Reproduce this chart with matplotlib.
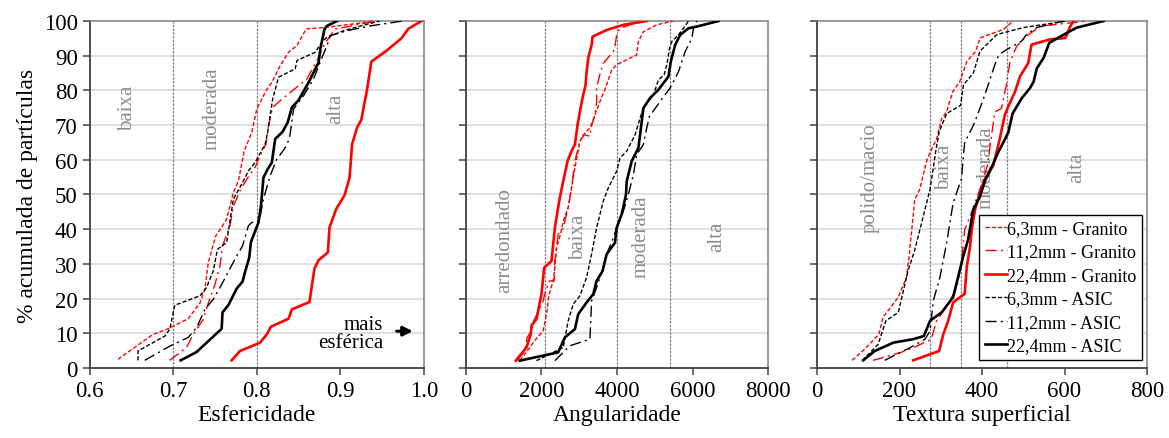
import matplotlib
matplotlib.use("Agg")
import matplotlib.pyplot as plt

plt.rcParams["font.family"] = ["Liberation Serif", "DejaVu Serif"]

# ── Data: cumulative % of particles vs. property value ─────────────────────────

# Esfericidade
esf_63_gr_x = [0.634, 0.656, 0.676, 0.693, 0.718, 0.732, 0.738, 0.742, 0.751, 0.763, 0.766, 0.772,
               0.778, 0.785, 0.794, 0.800, 0.811, 0.818, 0.828, 0.838, 0.848, 0.859, 0.884, 0.927, 0.940]
esf_63_gr_y = [2.5, 6.3, 9.7, 11.2, 14.2, 18.7, 22.7, 30.4, 38.1, 42.4, 44.8, 50.6,
               53.9, 62.6, 67.9, 74.6, 79.9, 82.3, 87.1, 91.0, 92.9, 97.7, 98.2, 99.5, 100]
esf_112_gr_x = [0.696, 0.716, 0.724, 0.736, 0.742, 0.750, 0.756, 0.759, 0.768, 0.772, 0.780, 0.788,
                0.798, 0.804, 0.811, 0.814, 0.819, 0.828, 0.840, 0.860, 0.872, 0.880, 0.888, 0.894,
                0.935, 0.947]
esf_112_gr_y = [2.2, 5.9, 9.7, 14.0, 18.7, 24.1, 29.4, 35.2, 41.0, 46.7, 51.1, 54.4,
                57.8, 61.2, 64.5, 69.8, 75.1, 77.0, 79.4, 83.3, 88.6, 92.9, 95.8, 97.7,
                99.6, 100]
esf_224_gr_x = [0.770, 0.780, 0.804, 0.812, 0.817, 0.838, 0.842, 0.863, 0.869, 0.874, 0.885, 0.887,
                0.895, 0.905, 0.911, 0.914, 0.920, 0.925, 0.932, 0.937, 0.955, 0.973, 0.981, 0.997]
esf_224_gr_y = [2.2, 4.9, 7.3, 9.7, 11.9, 14.2, 16.9, 19.0, 28.7, 31.1, 33.3, 40.5,
                45.8, 49.8, 54.9, 64.5, 69.3, 71.5, 80.4, 88.3, 91.4, 95.0, 97.7, 100]
esf_63_as_x = [0.658, 0.658, 0.690, 0.696, 0.702, 0.732, 0.740, 0.748, 0.753, 0.764, 0.772, 0.782,
               0.790, 0.798, 0.810, 0.813, 0.819, 0.826, 0.846, 0.848, 0.870, 0.879, 0.884, 0.904,
               0.925, 0.947]
esf_63_as_y = [2.2, 4.9, 9.2, 11.2, 18.1, 20.8, 23.2, 28.0, 34.2, 36.2, 48.7, 53.0,
               56.8, 59.2, 64.5, 67.9, 77.5, 83.8, 86.2, 88.6, 91.0, 94.3, 95.3, 97.2,
               98.6, 100]
esf_112_as_x = [0.666, 0.696, 0.718, 0.728, 0.738, 0.748, 0.758, 0.776, 0.783, 0.790, 0.794, 0.803,
                0.808, 0.816, 0.824, 0.833, 0.839, 0.844, 0.856, 0.868, 0.878, 0.884, 0.888, 0.908,
                0.936, 0.975]
esf_112_as_y = [2.2, 6.3, 8.8, 11.6, 16.9, 19.8, 24.1, 32.3, 35.2, 41.0, 41.9, 42.4,
                48.7, 55.4, 60.2, 63.1, 66.0, 74.6, 78.5, 83.3, 89.5, 92.9, 95.8, 97.2,
                98.6, 100]
esf_224_as_x = [0.709, 0.728, 0.758, 0.759, 0.766, 0.776, 0.783, 0.786, 0.791, 0.793, 0.802, 0.805,
                0.808, 0.813, 0.818, 0.822, 0.831, 0.837, 0.842, 0.850, 0.862, 0.874, 0.876, 0.881,
                0.884, 0.896]
esf_224_as_y = [2.2, 4.6, 11.3, 16.0, 18.1, 22.9, 24.9, 27.7, 31.8, 36.3, 41.9, 46.7,
                54.9, 57.3, 59.2, 66.0, 68.1, 70.8, 75.1, 77.2, 82.3, 88.1, 91.9, 97.7,
                98.6, 100]

# Angularidade
ang_63_gr_x = [1425, 1690, 1823, 2044, 2133, 2204, 2310, 2354, 2398, 2504, 2575, 2708, 2796, 2885,
               3018, 3106, 3283, 3416, 3549, 3726, 3858, 3991, 4345, 4522, 4566, 4699, 5053, 5496]
ang_63_gr_y = [2.1, 5.9, 7.9, 10.7, 15.5, 21.3, 25.1, 28.9, 34.7, 38.5, 42.3, 46.2, 51.9, 57.7,
               65.3, 67.2, 69.2, 72.9, 76.8, 81.6, 85.9, 87.4, 89.3, 90.2, 94.1, 96.9, 98.9, 100]
ang_112_gr_x = [1354, 1558, 1619, 1735, 1796, 2044, 2106, 2221, 2336, 2354, 2442, 2575, 2708, 2796,
                2885, 3018, 3133, 3283, 3310, 3416, 3460, 3460, 3531, 3637, 3903, 3947, 3991, 4080,
                4345, 4788]
ang_112_gr_y = [2.1, 5.0, 8.8, 10.7, 13.6, 19.3, 22.2, 25.1, 25.1, 30.8, 38.5, 40.4, 46.2, 51.9,
                59.6, 65.3, 67.2, 66.8, 69.2, 72.9, 76.8, 80.7, 84.0, 87.8, 91.2, 92.6, 96.0, 97.9,
                98.9, 100]
ang_224_gr_x = [1319, 1602, 1717, 1735, 1867, 1929, 2000, 2071, 2265, 2354, 2469, 2575, 2690, 2796,
                2885, 2956, 3035, 3106, 3168, 3195, 3239, 3327, 3354, 3726, 4168, 4788]
ang_224_gr_y = [2.1, 5.9, 9.8, 12.2, 14.1, 17.4, 21.3, 28.9, 30.8, 40.4, 48.1, 53.8, 59.6, 62.5,
                64.4, 70.1, 74.9, 78.7, 81.6, 85.4, 89.3, 93.1, 95.5, 97.4, 98.9, 100]
ang_63_as_x = [1867, 2575, 2708, 2841, 3018, 3195, 3327, 3460, 3637, 3770, 3903, 3991, 4080, 4257,
               4478, 4611, 4699, 4965, 5097, 5248, 5319, 5389, 5451, 5628, 5761, 5894]
ang_63_as_y = [2.1, 5.9, 13.6, 18.4, 20.8, 26.1, 32.8, 40.4, 48.1, 51.9, 54.8, 56.7, 60.5, 62.5,
               67.2, 72.0, 74.9, 78.7, 83.0, 84.5, 87.4, 92.1, 94.1, 96.0, 97.9, 100]
ang_112_as_x = [2354, 2752, 3283, 3327, 3460, 3637, 3726, 3903, 3991, 4168, 4301, 4434, 4522, 4699,
                4788, 4858, 5142, 5407, 5496, 5628, 5805, 5982, 6027, 6115]
ang_112_as_y = [2.1, 6.4, 8.3, 19.3, 23.2, 28.9, 32.8, 37.5, 40.4, 45.2, 50.0, 55.7, 61.5, 64.4,
                69.2, 72.5, 76.8, 80.7, 82.6, 85.4, 91.2, 95.0, 97.9, 100]
ang_224_as_x = [1425, 2442, 2619, 2885, 2973, 3195, 3372, 3460, 3619, 3726, 3947, 3991, 4124, 4239,
                4257, 4389, 4566, 4611, 4699, 4876, 5097, 5363, 5425, 5540, 5673, 5894, 6115, 6690]
ang_224_as_y = [2.1, 4.5, 8.8, 11.2, 15.5, 18.9, 21.3, 25.1, 28.0, 32.8, 36.1, 40.4, 44.3, 50.0,
                53.8, 59.6, 63.4, 67.2, 74.9, 77.8, 80.2, 84.0, 88.3, 93.1, 96.0, 97.9, 98.4, 100]

# Textura superficial
tex_63_gr_x = [85, 111, 150, 160, 197, 217, 223, 237, 249, 267, 282, 290, 302, 314,
               329, 346, 363, 385, 395, 452, 476]
tex_63_gr_y = [2.2, 4.9, 9.7, 14.6, 20.4, 26.2, 32.0, 48.5, 51.5, 60.2, 64.1, 66.0, 71.8, 73.8,
               79.6, 82.5, 88.3, 91.3, 95.1, 97.6, 100]
tex_112_gr_x = [136, 201, 233, 277, 290, 318, 339, 350, 358, 377, 399, 413, 431, 447,
                459, 468, 484, 508, 541, 654]
tex_112_gr_y = [2.2, 4.4, 5.8, 8.3, 13.6, 18.4, 23.3, 30.1, 39.8, 45.6, 52.9, 58.3, 73.8, 74.8,
                81.6, 88.3, 92.7, 95.6, 98.5, 100]
tex_224_gr_x = [233, 296, 306, 318, 330, 358, 363, 371, 375, 383, 395, 407, 427, 443,
                455, 463, 480, 492, 512, 520, 565, 602, 614, 622]
tex_224_gr_y = [2.2, 4.9, 9.7, 13.6, 18.9, 21.4, 29.1, 35.0, 39.8, 45.6, 50.5, 54.4, 58.3, 66.0,
                72.8, 75.2, 79.6, 84.0, 87.9, 93.2, 94.7, 95.1, 98.5, 100]
tex_63_as_x = [110, 148, 167, 197, 221, 237, 274, 288, 296, 314, 348, 355, 379, 395,
               436, 500, 606]
tex_63_as_y = [2.2, 6.8, 13.6, 16.0, 28.2, 34.0, 51.5, 62.6, 68.0, 73.3, 75.7, 81.6, 85.0, 91.3,
               96.1, 98.1, 100]
tex_112_as_x = [164, 209, 225, 262, 274, 282, 298, 314, 330, 350, 358, 379, 401, 415,
                431, 441, 459, 496, 508, 533, 598]
tex_112_as_y = [2.2, 4.9, 5.8, 8.3, 10.7, 19.4, 26.2, 35.9, 47.6, 54.4, 65.0, 69.9, 76.7, 81.6,
                87.4, 90.3, 91.7, 94.2, 96.1, 98.1, 100]
tex_224_as_x = [112, 140, 185, 233, 259, 274, 302, 330, 342, 354, 366, 379, 395, 407,
                425, 439, 456, 464, 474, 496, 516, 525, 533, 549, 563, 606, 630, 695]
tex_224_as_y = [2.2, 4.9, 7.3, 8.3, 9.2, 13.6, 16.0, 20.4, 26.2, 32.0, 36.9, 45.6, 49.5, 53.9,
                58.3, 62.1, 66.0, 68.0, 73.3, 77.7, 80.6, 82.5, 86.4, 89.3, 93.7, 96.6, 98.1, 100]

series_labels = ["6,3mm - Granito", "11,2mm - Granito", "22,4mm - Granito",
                 "6,3mm - ASIC", "11,2mm - ASIC", "22,4mm - ASIC"]

# ── Styles ─────────────────────────────────────────────────────────────────────

RED = "#ff0000"
STYLES = [
    dict(color=RED, lw=1.0, dashes=(3, 1.5)),
    dict(color=RED, lw=1.0, dashes=(8, 3, 1.5, 3)),
    dict(color=RED, lw=1.9, linestyle="-"),
    dict(color="black", lw=1.0, dashes=(3, 1.5)),
    dict(color="black", lw=1.0, dashes=(8, 3, 1.5, 3)),
    dict(color="black", lw=1.9, linestyle="-"),
]
GRID = "#d9d9d9"
ZONE = "#7f7f7f"
ZONE_TXT = "#8c8c8c"
TICK_FS = 16.5
LABEL_FS = 17


def setup_axis(ax, xlim, xticks, xticklabels, boundaries, xlabel):
    ax.set_xlim(*xlim)
    ax.set_ylim(0, 100)
    ax.set_xticks(xticks)
    ax.set_xticklabels(xticklabels, fontsize=TICK_FS)
    ax.set_yticks(range(0, 101, 10))
    for y in range(10, 100, 10):
        ax.axhline(y, color=GRID, lw=1.2, zorder=0)
    for b in boundaries:
        ax.axvline(b, color=ZONE, lw=0.9, dashes=(2, 1), zorder=1)
    for side in ["left", "bottom"]:
        ax.spines[side].set_color("#404040")
        ax.spines[side].set_linewidth(1.3)
    for side in ["top", "right"]:
        ax.spines[side].set_color("#7f7f7f")
        ax.spines[side].set_linewidth(1.1)
    ax.tick_params(direction="out", length=5, width=1.1, color="#404040", labelsize=TICK_FS)
    ax.set_xlabel(xlabel, fontsize=LABEL_FS, labelpad=2)


def zone_text(ax, x, y, s):
    ax.text(x, y, s, rotation=90, color=ZONE_TXT, fontsize=15, ha="center", va="center", zorder=2)


fig = plt.figure(figsize=(11.69, 4.39), dpi=100)
ax1 = fig.add_axes([0.0766, 0.1595, 0.2861, 0.7904])
ax2 = fig.add_axes([0.3986, 0.1595, 0.2584, 0.7904])
ax3 = fig.add_axes([0.6989, 0.1595, 0.2823, 0.7904])

# ── Panel 1: Esfericidade ──────────────────────────────────────────────────────
esf = [(esf_63_gr_x, esf_63_gr_y), (esf_112_gr_x, esf_112_gr_y), (esf_224_gr_x, esf_224_gr_y),
       (esf_63_as_x, esf_63_as_y), (esf_112_as_x, esf_112_as_y), (esf_224_as_x, esf_224_as_y)]
for (x, y), st in zip(esf, STYLES):
    ax1.plot(x, y, zorder=3, **st)
setup_axis(ax1, (0.6, 1.0), [0.6, 0.7, 0.8, 0.9, 1.0], ["0.6", "0.7", "0.8", "0.9", "1.0"],
           [0.7, 0.8], "Esfericidade")
ax1.set_yticklabels([str(v) for v in range(0, 101, 10)])
ax1.set_ylabel("% acumulada de partículas", fontsize=LABEL_FS, labelpad=4)
zone_text(ax1, 0.646, 75, "baixa")
zone_text(ax1, 0.746, 75, "moderada")
zone_text(ax1, 0.894, 75, "alta")
ax1.text(0.951, 10, "mais\nesférica", ha="right", va="center", multialignment="right",
         fontsize=15, linespacing=0.95, zorder=4)
ax1.annotate("", xy=(0.990, 10.6), xytext=(0.964, 10.6),
             arrowprops=dict(arrowstyle="-|>", color="black", lw=2.2, mutation_scale=14), zorder=4)

# ── Panel 2: Angularidade ──────────────────────────────────────────────────────
ang = [(ang_63_gr_x, ang_63_gr_y), (ang_112_gr_x, ang_112_gr_y), (ang_224_gr_x, ang_224_gr_y),
       (ang_63_as_x, ang_63_as_y), (ang_112_as_x, ang_112_as_y), (ang_224_as_x, ang_224_as_y)]
for (x, y), st in zip(ang, STYLES):
    ax2.plot(x, y, zorder=3, **st)
setup_axis(ax2, (0, 8000), [0, 2000, 4000, 6000, 8000], ["0", "2000", "4000", "6000", "8000"],
           [2100, 4000, 5400], "Angularidade")
ax2.set_yticklabels([])
zone_text(ax2, 1030, 37, "arredondado")
zone_text(ax2, 2970, 38, "baixa")
zone_text(ax2, 4650, 38, "moderada")
zone_text(ax2, 6650, 38, "alta")

# ── Panel 3: Textura superficial ───────────────────────────────────────────────
tex = [(tex_63_gr_x, tex_63_gr_y), (tex_112_gr_x, tex_112_gr_y), (tex_224_gr_x, tex_224_gr_y),
       (tex_63_as_x, tex_63_as_y), (tex_112_as_x, tex_112_as_y), (tex_224_as_x, tex_224_as_y)]
for (x, y), st, lab in zip(tex, STYLES, series_labels):
    ax3.plot(x, y, zorder=3, label=lab, **st)
setup_axis(ax3, (0, 800), [0, 200, 400, 600, 800], ["0", "200", "400", "600", "800"],
           [275, 350, 460], "Textura superficial")
ax3.set_yticklabels([])
zone_text(ax3, 128, 55, "polido/macio")
zone_text(ax3, 310, 58, "baixa")
zone_text(ax3, 411, 58, "moderada")
zone_text(ax3, 630, 58, "alta")

leg = ax3.legend(loc="lower right", bbox_to_anchor=(0.985, 0.023), fontsize=13, frameon=True,
                 fancybox=False, edgecolor="black", framealpha=1, handlelength=1.2,
                 handletextpad=0.05, borderpad=0.3, labelspacing=0.36, borderaxespad=0.0)
leg.get_frame().set_linewidth(1.0)
leg.set_zorder(5)

fig.savefig("out.png", dpi=100)
plt.close()
